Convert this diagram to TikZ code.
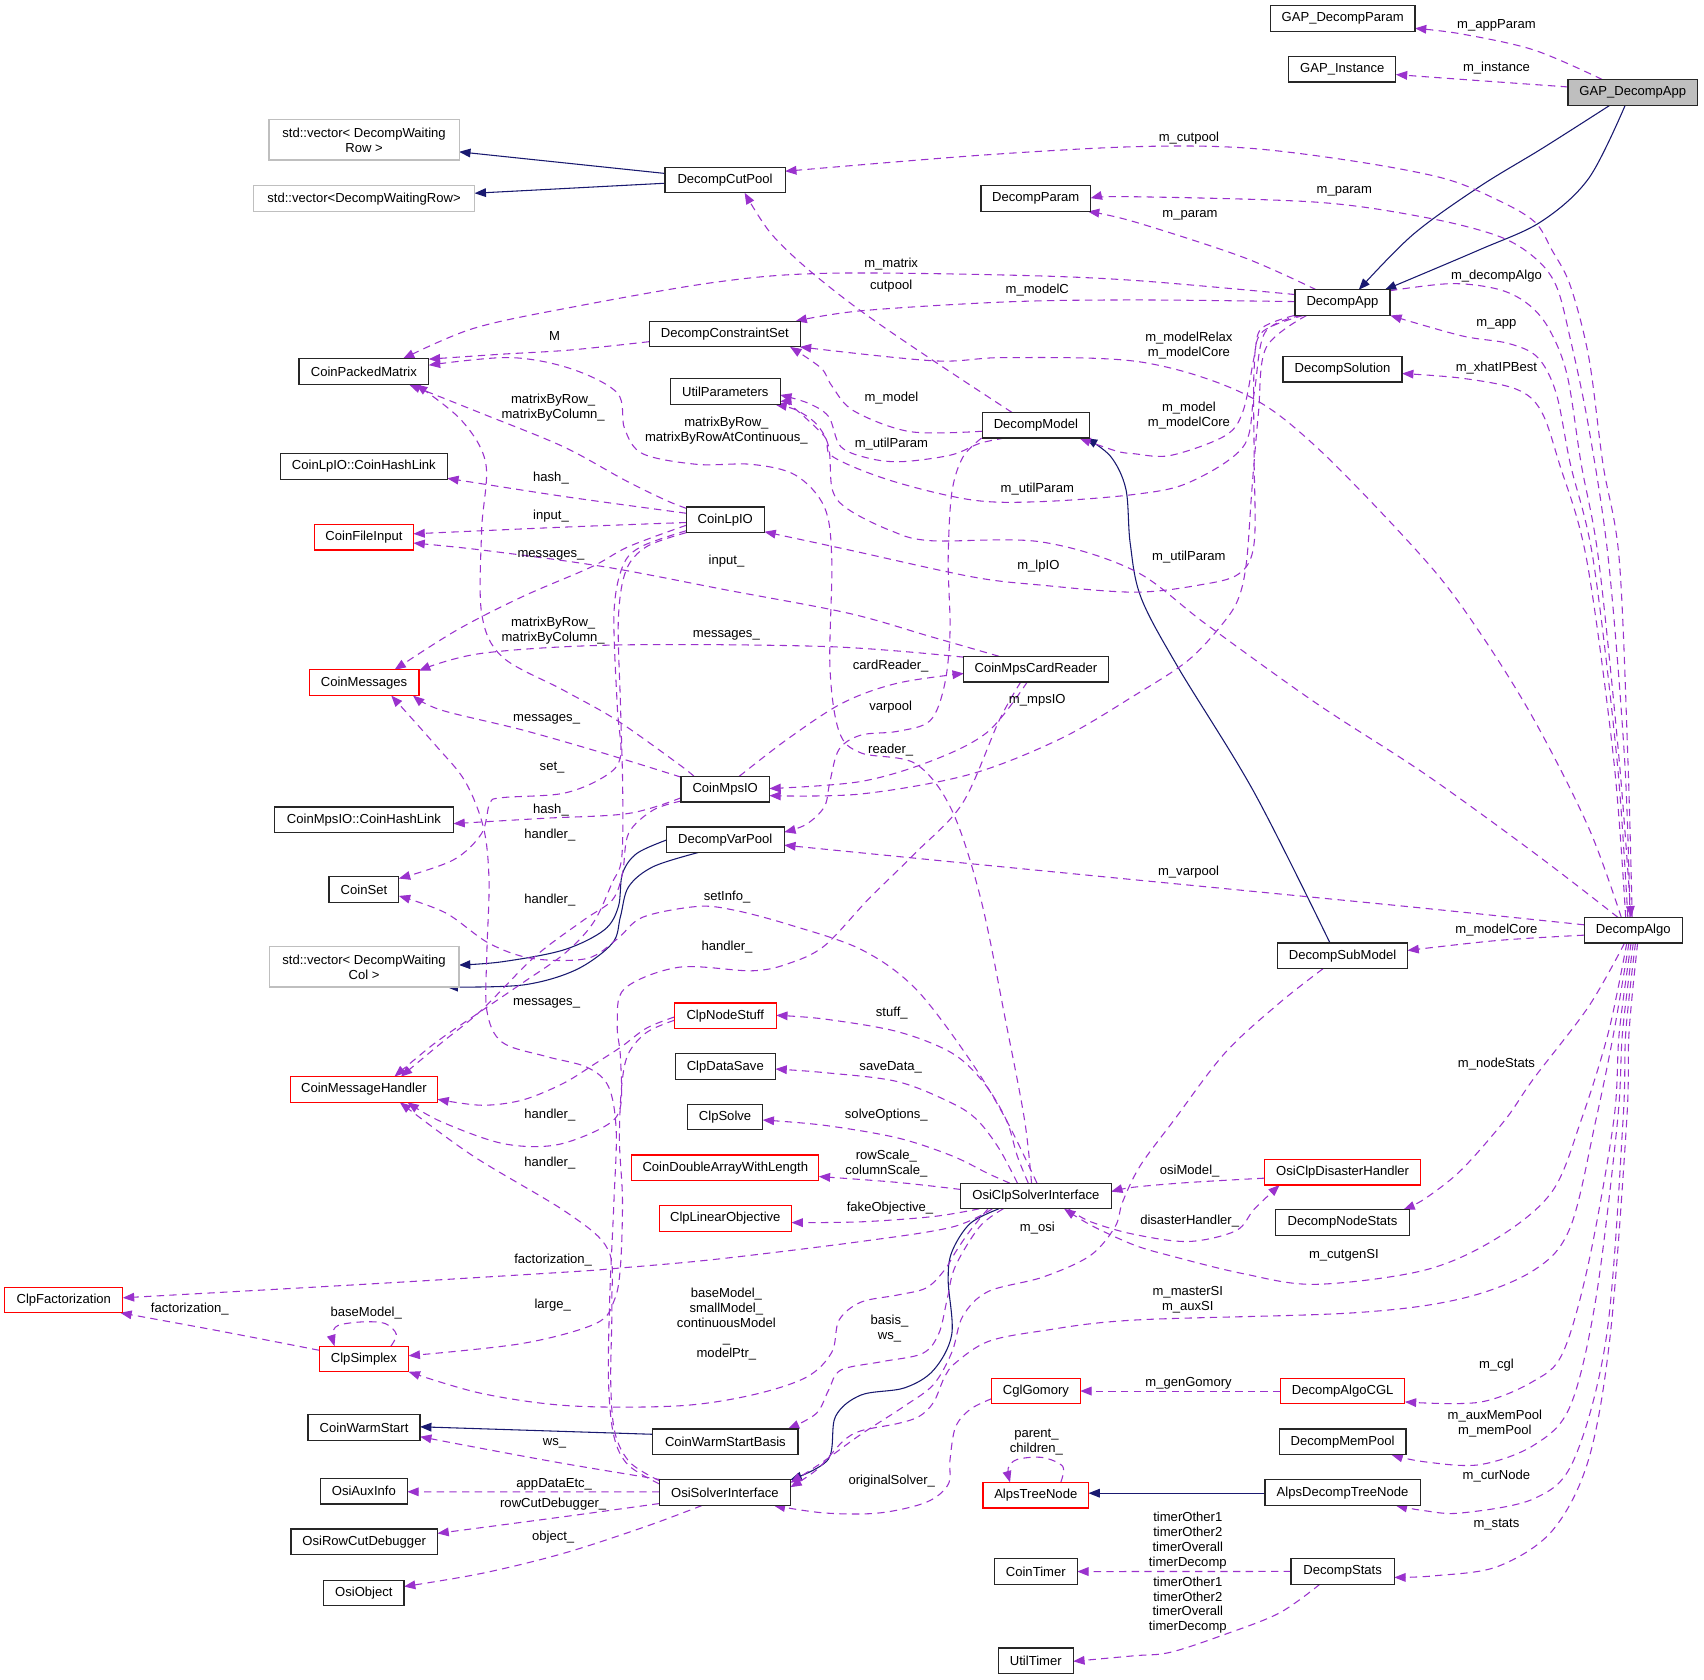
\documentclass[tikz,border=0pt]{standalone}
\usepackage{fontspec}
\setmainfont{Liberation Sans}
\usetikzlibrary{arrows.meta,calc}
\definecolor{depc}{HTML}{9A32CD}
\definecolor{inhc}{HTML}{191970}
\definecolor{redb}{HTML}{FF0000}
\definecolor{grayb}{HTML}{BFBFBF}
\newcommand\dfont{\fontsize{9.8}{11.2}\selectfont}
\newcommand\edgeP[4]{\coordinate (ea) at #2;\coordinate (eb) at #4;\draw[#1] plot[smooth,tension=0.55] coordinates {(ea) #3 (eb)};}
\pgfdeclarelayer{bgl}\pgfdeclarelayer{edl}
\pgfsetlayers{bgl,edl,main}
\tikzset{
 cls/.style={draw=black!85, line width=0.9pt, fill=white, font=\dfont, inner sep=0pt, minimum height=23.6*0.8151pt, align=center},
 bw/.style={minimum width=#1*0.8151pt},
 tall/.style={minimum height=37*0.8151pt},
 trunc/.style={draw=redb},
 ext/.style={draw=grayb},
 usage/.style={draw=depc, line width=0.8pt, dash pattern=on 5.5pt off 4pt, -{Triangle[length=8.5pt,width=6.5pt]}},
 inhe/.style={draw=inhc, line width=0.8pt, -{Triangle[length=8.5pt,width=6.5pt]}},
 lab/.style={font=\dfont, inner sep=0pt, align=center},
}
\begin{document}
\begin{tikzpicture}[x=0.8151pt,y=-0.8151pt]
\begin{pgfonlayer}{bgl}
\fill[white] (0,0) rectangle (1568,1545);
\end{pgfonlayer}
\useasboundingbox (0,0) rectangle (1568,1545);
% ---------------- nodes
\node[cls,bw=133] (gdp) at (1235.5,17.1) {GAP\_DecompParam};
\node[cls,bw=98.5] (gi) at (1235.2,63.6) {GAP\_Instance};
\node[cls,bw=119.5,fill=grayb] (gda) at (1502.5,85) {GAP\_DecompApp};
\node[cls,ext,tall,bw=175] (vrow1) at (335,128.7) {std::vector< DecompWaiting\\Row >};
\node[cls,ext,bw=203.5] (vrow2) at (335,182.8) {std::vector<DecompWaitingRow>};
\node[cls,bw=110.5] (dcp) at (667.2,165.6) {DecompCutPool};
\node[cls,bw=101] (dp) at (953.1,182.8) {DecompParam};
\node[cls,bw=87.5] (dapp) at (1235.3,278.5) {DecompApp};
\node[cls,bw=139.3] (dcs) at (667,307.4) {DecompConstraintSet};
\node[cls,bw=119.5] (cpm) at (334.8,342) {CoinPackedMatrix};
\node[cls,bw=101] (up) at (667.4,360.4) {UtilParameters};
\node[cls,bw=109.5] (dsol) at (1235.4,339.7) {DecompSolution};
\node[cls,bw=98.3] (dm) at (953.2,391.3) {DecompModel};
\node[cls,bw=153.5] (lphl) at (334.8,429.1) {CoinLpIO::CoinHashLink};
\node[cls,trunc,bw=91] (cfi) at (334.9,494.2) {CoinFileInput};
\node[cls,bw=71.6] (lpio) at (667.4,478.3) {CoinLpIO};
\node[cls,bw=132.8] (mcr) at (953.3,615.7) {CoinMpsCardReader};
\node[cls,trunc,bw=101] (cmsg) at (335,628.2) {CoinMessages};
\node[cls,bw=81.3] (mpsio) at (667.3,726.1) {CoinMpsIO};
\node[cls,bw=164.6] (mpshl) at (334.9,754.4) {CoinMpsIO::CoinHashLink};
\node[cls,bw=108.4] (dvp) at (667.4,772.7) {DecompVarPool};
\node[cls,bw=64.2] (cset) at (334.9,818.4) {CoinSet};
\node[cls,ext,tall,bw=174.7] (vcol) at (335,889.7) {std::vector< DecompWaiting\\Col >};
\node[cls,bw=90.3] (dalgo) at (1502.9,856) {DecompAlgo};
\node[cls,bw=119.4] (dsm) at (1235.4,879.6) {DecompSubModel};
\node[cls,trunc,bw=93.7] (cns) at (667.4,934.8) {ClpNodeStuff};
\node[cls,trunc,bw=135.2] (cmh) at (334.9,1002.5) {CoinMessageHandler};
\node[cls,bw=92.3] (cds) at (667.4,981.5) {ClpDataSave};
\node[cls,bw=69.2] (csolve) at (667.2,1027.8) {ClpSolve};
\node[cls,trunc,bw=172] (cdawl) at (667.4,1074.6) {CoinDoubleArrayWithLength};
\node[cls,trunc,bw=143.9] (ocdh) at (1235.5,1078.6) {OsiClpDisasterHandler};
\node[cls,bw=138.5] (ocsi) at (953.2,1100.5) {OsiClpSolverInterface};
\node[cls,trunc,bw=121.8] (clo) at (667.4,1121.3) {ClpLinearObjective};
\node[cls,bw=122.8] (dns) at (1235.4,1124.9) {DecompNodeStats};
\node[cls,trunc,bw=108.7] (cfact) at (58.7,1196.2) {ClpFactorization};
\node[cls,trunc,bw=82.2] (csimp) at (334.9,1250.5) {ClpSimplex};
\node[cls,trunc,bw=81.4] (cglg) at (953.3,1280) {CglGomory};
\node[cls,trunc,bw=114.5] (dacgl) at (1235.5,1280) {DecompAlgoCGL};
\node[cls,bw=103.1] (cws) at (335,1313.5) {CoinWarmStart};
\node[cls,bw=133.5] (cwsb) at (667.5,1326.8) {CoinWarmStartBasis};
\node[cls,bw=116.8] (dmp) at (1235.4,1326.8) {DecompMemPool};
\node[cls,trunc,bw=97] (atn) at (953.1,1375.8) {AlpsTreeNode};
\node[cls,bw=142.8] (adtn) at (1235.4,1373.5) {AlpsDecompTreeNode};
\node[cls,bw=120.5] (osi) at (667,1373.5) {OsiSolverInterface};
\node[cls,bw=80] (oai) at (334.8,1372.2) {OsiAuxInfo};
\node[cls,bw=134.8] (orcd) at (335.1,1418.8) {OsiRowCutDebugger};
\node[cls,bw=73.9] (oobj) at (334.8,1465.9) {OsiObject};
\node[cls,bw=76.3] (ctimer) at (953.1,1446.1) {CoinTimer};
\node[cls,bw=95] (dstats) at (1235.5,1446) {DecompStats};
\node[cls,bw=68.9] (utimer) at (953.1,1528.2) {UtilTimer};
% ---------------- edges
\begin{pgfonlayer}{edl}
% inheritance
\edgeP{inhe}{($(gda)+(-21,11.8)$)}{(1420,136) (1361,172) (1300,216)}{($(dapp)+(15,-11.8)$)}
\edgeP{inhe}{($(gda)+(-7,11.8)$)}{(1462,164) (1418,204) (1361,230)}{($(dapp)+(39,-11.8)$)}
\edgeP{inhe}{($(dcp)+(-55.25,-6)$)}{}{($(vrow1)+(87.5,11)$)}
\edgeP{inhe}{($(dcp)+(-55.25,3)$)}{}{($(vrow2)+(101.75,-5)$)}
\edgeP{inhe}{($(dsm)+(-11.5,-11.8)$)}{(1154,729) (1084,614) (1050,550) (1040,500) (1036,450) (1022,420)}{($(dm)+(46,11.8)$)}
\edgeP{inhe}{($(dvp)+(-54.2,0.3)$)}{(586,785.3) (572.8,803.7) (569,834.3) (555.9,855.8) (518.3,874.2) (462,885)}{($(vcol)+(87.35,-1.7)$)}
\edgeP{inhe}{($(dvp)+(-25,11.8)$)}{(601,797.5) (578.4,816) (570.9,843.5) (563.4,868) (529.6,892.6) (480.8,906.4)}{($(vcol)+(76,18.5)$)}
\edgeP{inhe}{($(ocsi)+(-34,11.8)$)}{(892.6,1125.9) (875.8,1152.2) (872.5,1178.5) (875.8,1227.8) (859.1,1260.7) (832.3,1277.1) (792.2,1283.7) (768.8,1303.4) (762.1,1342.9)}{($(osi)+(60.25,-11.8)$)}
\edgeP{inhe}{($(cwsb)+(-66.75,-7)$)}{}{($(cws)+(51.55,-0.6)$)}
\edgeP{inhe}{($(adtn)+(-71.4,0.5)$)}{}{($(atn)+(48.5,-1.8)$)}
% usage: GAP_DecompApp
\edgeP{usage}{($(gda)+(-28,-11.8)$)}{(1411.5,46) (1344.6,31.2)}{($(gdp)+(66.5,9)$)}
\edgeP{usage}{($(gda)+(-59.75,-5)$)}{(1344.6,73)}{($(gi)+(49.25,5)$)}
% DecompAlgo upward bundle
\edgeP{usage}{($(dalgo)+(-1,-11.8)$)}{(1498,700) (1490,515) (1475,427) (1462,329) (1445,263) (1428,230) (1412,204) (1378,184) (1328,164) (1244,148) (1144,136) (1043,135) (900,143)}{($(dcp)+(55.25,-8)$)}
\edgeP{usage}{($(dalgo)+(-3,-11.8)$)}{(1495,700) (1480,515) (1462,394) (1445,312) (1432,263) (1412,237) (1378,217) (1311,200) (1211,186) (1043,181)}{($(dp)+(50.5,-0.5)$)}
\edgeP{usage}{($(dapp)+(43.75,-11)$)}{(1335,261) (1378,266) (1405,279) (1425,302) (1442,345) (1455,427) (1471,515) (1490,700)}{($(dalgo)+(-2,-11.8)$)}
\edgeP{usage}{($(dalgo)+(-5,-11.8)$)}{(1488,700) (1466,515) (1445,427) (1432,362) (1415,329) (1388,316) (1345,309)}{($(dapp)+(44,11.8)$)}
\edgeP{usage}{($(dalgo)+(-7,-11.8)$)}{(1485,700) (1460,515) (1435,427) (1418,378) (1395,358) (1345,348)}{($(dsol)+(54.75,4)$)}
\edgeP{usage}{($(dapp)+(-24,-11.8)$)}{(1143.9,236.7) (1043.5,204)}{($(dp)+(48,11.8)$)}
\edgeP{usage}{($(dalgo)+(-11,-11.8)$)}{(1462,762) (1412,663) (1361,581) (1311,515) (1211,411) (1144,362) (1049,333) (926,329) (859,332)}{($(dcs)+(69,11.8)$)}
\edgeP{usage}{($(dalgo)+(-14,-11.8)$)}{(1412,785) (1311,712) (1211,647) (1110,574.5) (1043.5,525) (957,498.5) (856,497.5) (819,488) (781,469) (766,451) (762.5,411) (751,390) (732,377)}{($(up)+(46,11.8)$)}
% DecompApp downward
\edgeP{usage}{($(dapp)+(-38,11.8)$)}{(1164,306) (1154,362) (1144,411) (1094,444) (1043.5,455) (957,461.6) (894,460) (819,442) (766,420) (759,402) (729,374)}{($(up)+(50.5,9)$)}
\edgeP{usage}{($(dapp)+(-33,11.8)$)}{(1165,320) (1158,380) (1152,450) (1147.2,515.3) (1140.5,548.2) (1127.2,571.2) (1093.7,607.3) (1043.5,640.2) (976.2,679.6) (892.6,712.5) (792.2,730.6)}{($(mpsio)+(40.65,6)$)}
\edgeP{usage}{($(dapp)+(-36,11.8)$)}{(1161,306) (1154,340) (1154,420) (1154,500) (1140,528) (1103.7,538.3) (1043.5,544.9) (957,538.3) (894,530.7) (781,506)}{($(lpio)+(36,11)$)}
\edgeP{usage}{($(dapp)+(-44.5,11.8)$)}{(1160.6,302.4) (1154,328.7) (1143.9,378) (1127.2,401) (1077,419.1) (1043.5,417.5) (1026.4,414.8)}{($(dm)+(40,11.8)$)}
\edgeP{usage}{($(dapp)+(-43.75,-7.5)$)}{(1043.5,258) (926,253.1) (758.7,251.5) (658.3,259.7) (524.5,283) (435,302.4)}{($(cpm)+(36,-11.8)$)}
\edgeP{usage}{($(dapp)+(-43.75,-1)$)}{(1043.5,276) (926,277.8) (792.2,286)}{($(dcs)+(65,-11.8)$)}
% DecompModel
\edgeP{usage}{($(dm)+(-29,11.8)$)}{(901.4,408) (875,418.7) (830,424.8) (800,421.8) (773.7,411) (762.5,383.4) (743.7,371)}{($(up)+(50.5,3)$)}
\edgeP{usage}{($(dm)+(-49.15,5.5)$)}{(837.6,397.2) (785.5,378) (765.4,355) (755.4,338.6)}{($(dcs)+(60,11.8)$)}
\edgeP{usage}{($(dm)+(-22,-11.8)$)}{(859,332) (792,286) (742,246.5) (708.5,213.7)}{($(dcp)+(18,11.8)$)}
\edgeP{usage}{($(dm)+(-50,11.8)$)}{(886,420.7) (875.8,453.6) (872.5,515.4) (874.2,581) (869.1,630.4) (855.8,663.2) (825.6,673) (792.2,676.4) (772.1,689.5) (763.7,719.1) (758.7,742.1) (742,758.5)}{($(dvp)+(54.2,-7)$)}
% DecompAlgo other
\edgeP{usage}{($(dalgo)+(-45.15,-5)$)}{(1311,835.8) (1177.3,822.6) (1043.5,809.5) (892.6,794.7)}{($(dvp)+(54.2,5)$)}
\edgeP{usage}{($(dalgo)+(-45.15,4.5)$)}{(1378,865.4)}{($(dsm)+(59.7,-5)$)}
\edgeP{usage}{($(dalgo)+(-8,11.8)$)}{(1461.8,926.2) (1411.6,992) (1384.8,1030.7) (1344.6,1076.6) (1311.2,1103)}{($(dns)+(56,-11.8)$)}
\edgeP{usage}{($(dalgo)+(-6,11.8)$)}{(1480,950) (1455,1030.6) (1428.3,1096.3) (1378,1139) (1311.2,1168.7) (1210.8,1181.8) (1143.9,1172) (1077,1155.5) (1043.5,1145.6) (1005,1128)}{($(ocsi)+(26,11.8)$)}
\edgeP{usage}{($(dalgo)+(-4,11.8)$)}{(1485,950) (1468.5,1030.6) (1445,1129.2) (1411.6,1168.7) (1344.6,1195) (1244.3,1208.1) (1043.5,1214.7) (959.5,1224.5) (909.3,1234.4) (879.2,1254.1) (869.1,1267.3) (859.1,1290.3) (845.7,1303.4) (825.6,1310) (792.2,1316.6) (775.5,1326.4) (752,1352)}{($(osi)+(60.25,-5)$)}
\edgeP{usage}{($(dalgo)+(-2,11.8)$)}{(1490,950) (1485,1030.6) (1461.8,1162) (1438.3,1244.3) (1411.6,1270.6) (1361.4,1290.3)}{($(dacgl)+(57.25,10)$)}
\edgeP{usage}{($(dalgo)+(0,11.8)$)}{(1493,950) (1488.5,1030.6) (1468.5,1195) (1445,1293.6) (1411.6,1329.7) (1361.4,1347.8) (1310,1345)}{($(dmp)+(45,11.8)$)}
\edgeP{usage}{($(dalgo)+(2,11.8)$)}{(1496,950) (1493.5,1030.6) (1478.5,1227.8) (1448.4,1342.9) (1411.6,1379) (1344.6,1392.2) (1310,1390)}{($(adtn)+(49,11.8)$)}
\edgeP{usage}{($(dalgo)+(4,11.8)$)}{(1499,950) (1496.9,1030.6) (1481.8,1227.8) (1461.8,1342.9) (1428.3,1408.6) (1378,1441.5) (1320,1450)}{($(dstats)+(47.5,5.5)$)}
% DecompSubModel
\edgeP{usage}{($(dsm)+(-18,11.8)$)}{(1177.3,922.9) (1127.2,968.9) (1080.3,1030.7) (1049,1073) (1033,1106) (1026,1129) (1003,1155.5) (959.5,1175.2) (909.3,1188.4) (886,1211) (876,1244) (859,1274) (832,1294) (792,1320) (756,1346)}{($(osi)+(60.25,-9)$)}
% OsiClpSolverInterface
\edgeP{usage}{($(ocdh)+(-71.95,5.5)$)}{(1093.7,1088.1) (1043.5,1092.4)}{($(ocsi)+(69.25,-4)$)}
\edgeP{usage}{($(ocsi)+(30,11.8)$)}{(1003,1124) (1043.5,1135.8) (1093.7,1142.4) (1137.2,1132.5) (1154,1112.8)}{($(ocdh)+(-58,11.8)$)}
\edgeP{usage}{($(ocsi)+(-69.25,-6)$)}{(825.6,1088)}{($(cdawl)+(86,8)$)}
\edgeP{usage}{($(ocsi)+(-52,11.8)$)}{(859,1119.4) (792.2,1124.3)}{($(clo)+(60.9,3.7)$)}
\edgeP{usage}{($(ocsi)+(-40,11.8)$)}{(875.8,1129.2) (792.2,1142.4) (658.3,1158.8) (568,1167) (524.6,1170.3) (334.6,1181.8)}{($(cfact)+(54.35,-2)$)}
\edgeP{usage}{($(ocsi)+(-44,11.8)$)}{(892.6,1132.5) (879.2,1152.2) (869.1,1168.7) (852.4,1185.1) (825.6,1191.7) (792.2,1198.2) (772.1,1214.7) (765.4,1244.3) (742,1267.3) (691.8,1283.7) (624.9,1293.6) (524.5,1293.6) (443.2,1282.2)}{($(csimp)+(41.1,11.8)$)}
\edgeP{usage}{($(ocsi)+(-30,11.8)$)}{(901.4,1128.8) (878.9,1165.6) (871.4,1196.3) (863.9,1227) (848.9,1245.4) (811.3,1253) (773.7,1260.7) (762.5,1279.1) (751.2,1300.6)}{($(cwsb)+(57.5,-11.8)$)}
\edgeP{usage}{($(ocsi)+(-7,-11.8)$)}{(936,1063.5) (926,1030.6) (905,996) (875.8,968.9) (825.6,949.2) (758.7,937.7)}{($(cns)+(46.85,-0.5)$)}
\edgeP{usage}{($(ocsi)+(-17,-11.8)$)}{(919.3,1056.9) (899.3,1030.7) (875.8,1015) (825.6,995.2) (758.7,987)}{($(cds)+(46.15,2.2)$)}
\edgeP{usage}{($(ocsi)+(-24,-11.8)$)}{(909.3,1079.9) (875.8,1063.5) (825.6,1047) (758.7,1035.5)}{($(csolve)+(34.6,2.8)$)}
\edgeP{usage}{($(ocsi)+(-4,-11.8)$)}{(942.8,1030.7) (926,942.6) (902.6,827.6) (875.8,745.4) (842.4,702.7) (792.2,692.8) (772.1,673.1) (763.7,614) (765.4,515.4) (758.7,466.8) (732,437.2) (691.8,427.3) (641.6,427.3) (591.4,417.5) (574.7,394.4) (568,361.6) (524.5,339) (468.4,329)}{($(cpm)+(59.75,-6)$)}
\edgeP{usage}{($(ocsi)+(1,-11.8)$)}{(926,1030.7) (892.6,975.5) (842.4,909.7) (792.2,873.6) (725.3,850.6) (675.1,837.4) (641.6,834.1) (591.4,844) (568,864) (540,882) (490,882) (450,868) (410,840)}{($(cset)+(32.1,6)$)}
% DecompConstraintSet
\edgeP{usage}{($(dcs)+(-69.65,7)$)}{(524.5,322.1) (460,326)}{($(cpm)+(59.75,-11.5)$)}
% CoinLpIO
\edgeP{usage}{($(lpio)+(-35.8,-10.5)$)}{(612.2,460.1) (574.7,441.7) (518.3,411) (443.2,380.4)}{($(cpm)+(41.6,11.8)$)}
\edgeP{usage}{($(lpio)+(-35.8,-6)$)}{(520,457)}{($(lphl)+(76.75,11)$)}
\edgeP{usage}{($(lpio)+(-35.8,2.5)$)}{(520,485)}{($(cfi)+(45.5,-3)$)}
\edgeP{usage}{($(lpio)+(-35.8,5)$)}{(578.4,503) (544.6,521.5) (480.8,549) (420,580)}{($(cmsg)+(28,-11.8)$)}
\edgeP{usage}{($(lpio)+(-35.8,10)$)}{(590,503) (573,521) (565,564) (568,650) (571,696) (556,714.7) (518.3,730) (462,734) (450.7,739.3) (443.2,766.9) (417,791.4)}{($(cset)+(32.1,-10)$)}
\edgeP{usage}{($(lpio)+(-35.8,11.8)$)}{(595,503) (576,525) (569,570) (571,650) (573,727) (572,790) (563,813) (546,849) (520,877) (480,905) (436,935) (400,960)}{($(cmh)+(28,-11.8)$)}
% CoinMpsIO
\edgeP{usage}{($(mpsio)+(-28.7,-11.8)$)}{(623.5,702.4) (567.2,662.5) (518.3,635) (462,604.3) (443.2,564.4) (443.2,487.7) (447,426.4) (424.4,386.5)}{($(cpm)+(48,11.8)$)}
\edgeP{usage}{($(mpsio)+(-40.65,11)$)}{(601,745.4) (578.4,766.9) (572.8,803.7) (563.4,828.2) (537.1,846.6) (492,880.4) (443.2,929.4) (405.7,960)}{($(cmh)+(34,-11.8)$)}
\edgeP{usage}{($(mpsio)+(-40.65,-11)$)}{(555.9,693.2) (480.8,671.7) (405.7,653.3)}{($(cmsg)+(45,11.8)$)}
\edgeP{usage}{($(mpsio)+(-40.65,8)$)}{(578.4,748.5) (500,753)}{($(mpshl)+(82.3,3.5)$)}
\edgeP{usage}{($(mpsio)+(13,-11.8)$)}{(725.3,679.6) (775.5,646.8) (825.6,628.7)}{($(mcr)+(-66.4,4)$)}
% CoinMpsCardReader
\edgeP{usage}{($(mcr)+(-8,11.8)$)}{(909.3,673.1) (859,699.4) (792.2,719.1)}{($(mpsio)+(40.65,-0.5)$)}
\edgeP{usage}{($(mcr)+(-34,-11.8)$)}{(856.4,585.8) (781.3,564.4) (668.6,542.9) (555.9,521.5) (443.2,506.1)}{($(cfi)+(45.5,5.5)$)}
\edgeP{usage}{($(mcr)+(-66.4,-11)$)}{(762.5,595) (567.2,593.5) (443.2,601.2)}{($(cmsg)+(50.5,-11)$)}
\edgeP{usage}{($(mcr)+(-14,11.8)$)}{(919.3,663.2) (885.9,738.8) (842.4,784.8) (798.9,827.6) (758.7,870.3) (725.3,886.7) (691.8,893.3) (624.9,890) (574.7,909.7) (568,942.6) (570.9,972.4) (570.9,1018.4) (555.9,1036.8) (510.8,1053.7) (462,1052.1) (405.7,1032)}{($(cmh)+(40,11.8)$)}
% ClpNodeStuff
\edgeP{usage}{($(cns)+(-46.85,1)$)}{(595,946) (572,963) (548,978.5) (518.3,996.9) (480.8,1012.2) (443.2,1017)}{($(cmh)+(67.6,9)$)}
\edgeP{usage}{($(cns)+(-46.85,4)$)}{(595,950) (578,970) (572,1000) (570,1050) (572.8,1104.3) (570.9,1165.6) (565.3,1196.3) (548.4,1217.8) (480.8,1236.2)}{($(csimp)+(41.1,-3)$)}
% OsiSolverInterface
\edgeP{usage}{($(osi)+(-60.25,-11)$)}{(580,1346) (566,1319) (562,1273) (563,1200) (559.7,1150.3) (522,1116) (435,1063.5)}{($(cmh)+(33,11.8)$)}
\edgeP{usage}{($(osi)+(-60.25,-8)$)}{(578,1348) (565,1322) (560,1273) (561,1196) (565,1104) (567,1040) (560,1000) (540,982) (502,972) (462,959) (448,930) (448,877) (450,811) (445,762) (428,719) (401,686)}{($(cmsg)+(25,11.8)$)}
\edgeP{usage}{($(osi)+(-58,-11.8)$)}{(518.3,1346.6) (443.2,1332.8)}{($(cws)+(51.55,8.5)$)}
\edgeP{usage}{($(osi)+(-60.25,-0.8)$)}{}{($(oai)+(40,0.5)$)}
\edgeP{usage}{($(osi)+(-60.25,10)$)}{(518.3,1395.7)}{($(orcd)+(67.4,-7.8)$)}
\edgeP{usage}{($(osi)+(-21,11.8)$)}{(593.5,1404.9) (518.3,1429.4) (443.2,1447.8)}{($(oobj)+(36.95,-6)$)}
% others
\edgeP{usage}{($(cglg)+(-40.7,7)$)}{(892.6,1296.9) (879.2,1313.3) (874.2,1343) (872.5,1365.9) (852.4,1382.3) (808.9,1392.2) (758.7,1392.2)}{($(osi)+(45,11.8)$)}
\edgeP{usage}{($(dacgl)+(-57.25,0)$)}{}{($(cglg)+(40.7,0)$)}
\edgeP{usage}{($(atn)+(23,-11.8)$)}{(977.9,1349.4) (959.5,1341.2) (936.1,1342.9) (927.7,1351.1)}{($(atn)+(-23.7,-11.8)$)}
\edgeP{usage}{($(csimp)+(24.8,-11.8)$)}{(364.7,1227.8) (354.7,1218) (334.6,1216.3) (311.2,1219.6) (306,1228)}{($(csimp)+(-27.1,-11.8)$)}
\edgeP{usage}{($(csimp)+(-41.1,-8)$)}{(200.8,1224.5)}{($(cfact)+(52,11.8)$)}
\edgeP{usage}{($(dstats)+(-47.5,0)$)}{}{($(ctimer)+(38.15,0)$)}
\edgeP{usage}{($(dstats)+(-21,11.8)$)}{(1177.3,1484.2) (1127.2,1503.9) (1077,1520.4) (1043.5,1523.6)}{($(utimer)+(34.45,0.5)$)}
\end{pgfonlayer}
% ---------------- labels
\node[lab] (l01) at (1377,23) {m\_appParam};
\node[lab] (l02) at (1377,62.5) {m\_instance};
\node[lab] (l03) at (1094,127.5) {m\_cutpool};
\node[lab] (l04) at (1237,176.5) {m\_param};
\node[lab] (l05) at (1095,198.5) {m\_param};
\node[lab] (l06) at (820,242.6) {m\_matrix};
\node[lab] (l07) at (820,263.6) {cutpool};
\node[lab] (l08) at (954.5,267.2) {m\_modelC};
\node[lab] (l09) at (1377,253.8) {m\_decompAlgo};
\node[lab] (l10) at (1377,298) {m\_app};
\node[lab] (l11) at (510.3,309) {M};
\node[lab] (l12) at (1094,318) {m\_modelRelax\\m\_modelCore};
\node[lab] (l13) at (1377,338.6) {m\_xhatIPBest};
\node[lab] (l14) at (509,375.3) {matrixByRow\_\\matrixByColumn\_};
\node[lab] (l15) at (668.4,396.5) {matrixByRow\_\\matrixByRowAtContinuous\_};
\node[lab] (l16) at (820.3,366.5) {m\_model};
\node[lab] (l17) at (1094,382.7) {m\_model\\m\_modelCore};
\node[lab] (l18) at (820.3,408.2) {m\_utilParam};
\node[lab] (l19) at (954.5,449.7) {m\_utilParam};
\node[lab] (l20) at (1094,512.8) {m\_utilParam};
\node[lab] (l21) at (507,439.8) {hash\_};
\node[lab] (l22) at (507,475) {input\_};
\node[lab] (l23) at (507,511) {messages\_};
\node[lab] (l24) at (668.5,516.5) {input\_};
\node[lab] (l25) at (955.5,521.2) {m\_lpIO};
\node[lab] (l26) at (509,580.5) {matrixByRow\_\\matrixByColumn\_};
\node[lab] (l27) at (668.4,585) {messages\_};
\node[lab] (l28) at (819.6,613.3) {cardReader\_};
\node[lab] (l29) at (954.5,644.8) {m\_mpsIO};
\node[lab] (l30) at (819.6,651) {varpool};
\node[lab] (l31) at (503,662.2) {messages\_};
\node[lab] (l32) at (819.6,690.5) {reader\_};
\node[lab] (l33) at (508,706.2) {set\_};
\node[lab] (l34) at (507,745.4) {hash\_};
\node[lab] (l35) at (506,768.4) {handler\_};
\node[lab] (l36) at (1093.7,802.3) {m\_varpool};
\node[lab] (l37) at (506,828.4) {handler\_};
\node[lab] (l38) at (669,825) {setInfo\_};
\node[lab] (l39) at (1377,856.2) {m\_modelCore};
\node[lab] (l40) at (669,871) {handler\_};
\node[lab] (l41) at (503,923) {messages\_};
\node[lab] (l42) at (820.6,931.8) {stuff\_};
\node[lab] (l43) at (1377,978.8) {m\_nodeStats};
\node[lab] (l44) at (819.6,982.4) {saveData\_};
\node[lab] (l45) at (506,1026) {handler\_};
\node[lab] (l46) at (815.6,1025.8) {solveOptions\_};
\node[lab] (l47) at (815.6,1070.4) {rowScale\_\\columnScale\_};
\node[lab] (l48) at (506,1070.5) {handler\_};
\node[lab] (l49) at (1094.7,1077.6) {osiModel\_};
\node[lab] (l50) at (819,1112) {fakeObjective\_};
\node[lab] (l51) at (1094.7,1123.6) {disasterHandler\_};
\node[lab] (l52) at (954.5,1129.9) {m\_osi};
\node[lab] (l53) at (1236.6,1154.9) {m\_cutgenSI};
\node[lab] (l54) at (509,1159.8) {factorization\_};
\node[lab] (l55) at (1093,1195.8) {m\_masterSI\\m\_auxSI};
\node[lab] (l56) at (337,1208) {baseModel\_};
\node[lab] (l57) at (174.7,1204.2) {factorization\_};
\node[lab] (l58) at (508.6,1200.9) {large\_};
\node[lab] (l59) at (668.4,1218.2) {baseModel\_\\smallModel\_\\continuousModel\\\_\\modelPtr\_};
\node[lab] (l60) at (818.5,1222.6) {basis\_\\ws\_};
\node[lab] (l61) at (1377,1256.4) {m\_cgl};
\node[lab] (l62) at (1093.7,1272.9) {m\_genGomory};
\node[lab] (l63) at (1375.5,1310.3) {m\_auxMemPool\\m\_memPool};
\node[lab] (l64) at (953.7,1327) {parent\_\\children\_};
\node[lab] (l65) at (510.3,1328) {ws\_};
\node[lab] (l66) at (1377,1358.3) {m\_curNode};
\node[lab] (l67) at (510,1365.9) {appDataEtc\_};
\node[lab] (l68) at (820.6,1363.3) {originalSolver\_};
\node[lab] (l69) at (509,1384) {rowCutDebugger\_};
\node[lab] (l70) at (1377,1403) {m\_stats};
\node[lab] (l71) at (509,1414.5) {object\_};
\node[lab] (l72) at (1093,1418) {timerOther1\\timerOther2\\timerOverall\\timerDecomp};
\node[lab] (l73) at (1093,1477) {timerOther1\\timerOther2\\timerOverall\\timerDecomp};
\end{tikzpicture}
\end{document}
